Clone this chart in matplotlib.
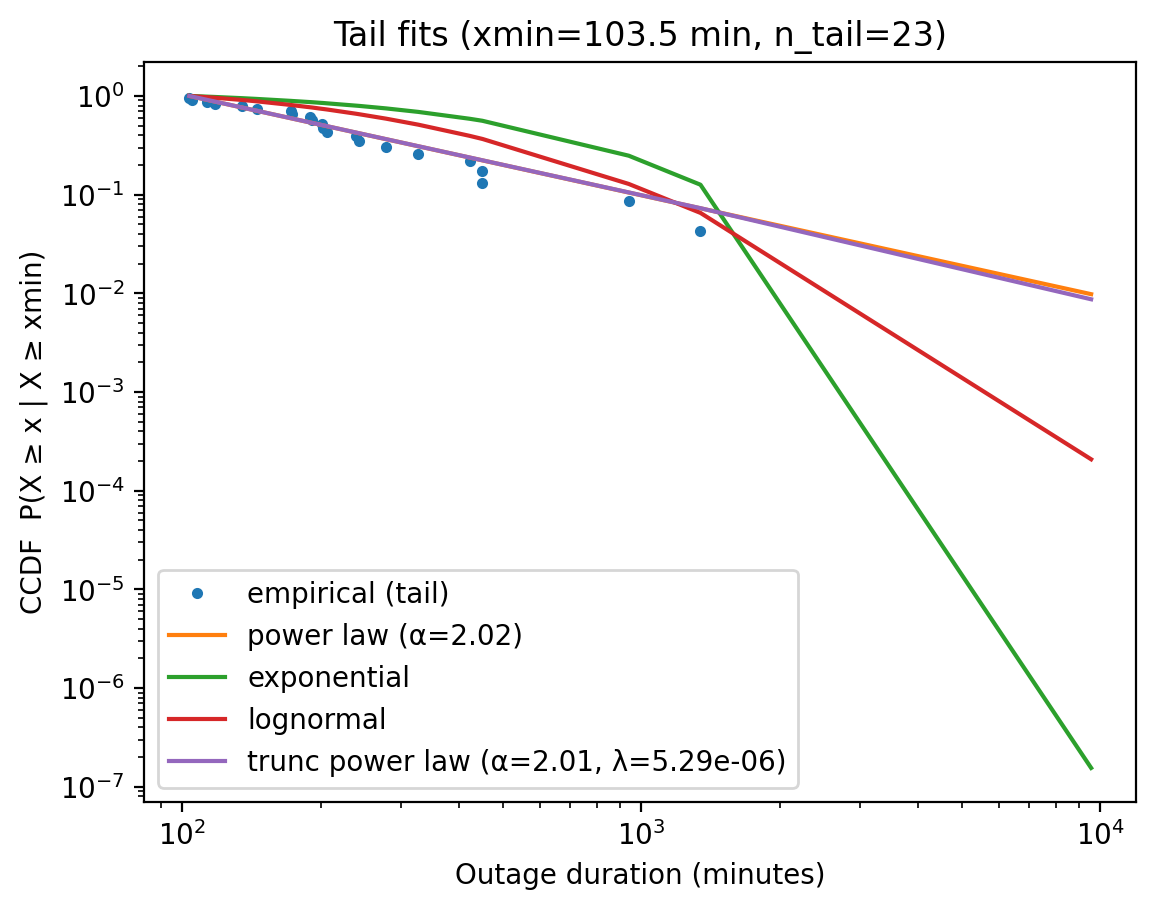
import numpy as np
import matplotlib.pyplot as plt

# Tail sample (minutes), sorted, xmin = 103.5
tail_x = [103.5, 105, 113, 118, 135, 145, 172.5, 173, 190, 191.5, 201, 202,
          207, 238.5, 242.5, 277.5, 326.5, 422.5, 449.5, 450.5, 938.5, 1345, 9550]

# Empirical CCDF (the largest value has CCDF 0 and is not shown on log axes)
emp_ccdf = [0.957, 0.913, 0.870, 0.826, 0.783, 0.739, 0.696, 0.652, 0.609,
            0.565, 0.522, 0.478, 0.435, 0.391, 0.348, 0.304, 0.261, 0.217,
            0.174, 0.130, 0.087, 0.043]

# Fitted CCDFs evaluated at tail_x
exp_ccdf = [1.0, 0.9975, 0.984, 0.976, 0.949, 0.933, 0.891, 0.890, 0.866, 0.864,
            0.850, 0.849, 0.841, 0.798, 0.793, 0.748, 0.689, 0.587, 0.561, 0.560,
            0.248, 0.126, 1.55e-7]
logn_ccdf = [1.0, 0.9954, 0.9716, 0.9577, 0.910, 0.8824, 0.8096, 0.808, 0.767,
             0.7637, 0.741, 0.739, 0.728, 0.661, 0.653, 0.589, 0.5115, 0.394,
             0.3674, 0.3666, 0.1283, 0.0653, 2.08e-4]

# Power-law fits are (nearly) straight on log-log axes: a few points suffice
pl_x = [103.5, 9550]
pl_ccdf = [1.0, 0.0098]
tpl_x = [103.5, 1345, 9550]
tpl_ccdf = [1.0, 0.0729, 0.0087]

plt.figure(figsize=(6.4, 4.8), dpi=200)
plt.loglog(tail_x[:-1], emp_ccdf, '.', linestyle='none', label='empirical (tail)')
plt.loglog(pl_x, pl_ccdf, label='power law (α=2.02)')
plt.loglog(tail_x, exp_ccdf, label='exponential')
plt.loglog(tail_x, logn_ccdf, label='lognormal')
plt.loglog(tpl_x, tpl_ccdf, label='trunc power law (α=2.01, λ=5.29e-06)')

plt.xlabel('Outage duration (minutes)')
plt.ylabel('CCDF  P(X ≥ x | X ≥ xmin)')
plt.title('Tail fits (xmin=103.5 min, n_tail=23)')
plt.legend()
plt.savefig('out.png', dpi=200, bbox_inches='tight')
